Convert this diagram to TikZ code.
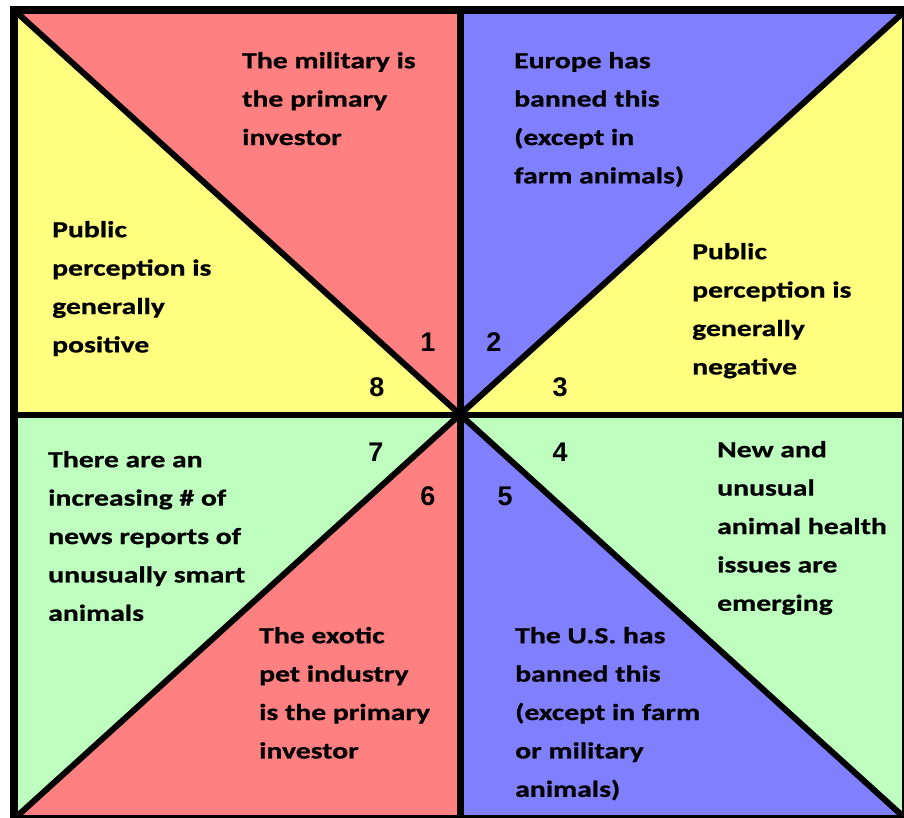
\documentclass[tikz,border=0pt]{standalone}
\usepackage{fontspec}
\setmainfont{Carlito}[FakeStretch=1.29, BoldFeatures={FakeBold=0.8}]
\newfontfamily\numfont{Liberation Sans}
\definecolor{sred}{RGB}{255,128,128}
\definecolor{sblue}{RGB}{128,128,255}
\definecolor{syellow}{RGB}{255,255,128}
\definecolor{sgreen}{RGB}{190,255,192}
\tikzset{
  txt/.style={anchor=north west, inner sep=0pt, align=left, text=black,
    font=\bfseries\fontsize{23}{38.4}\selectfont},
  num/.style={anchor=center, inner sep=0pt, text=black,
    font=\numfont\bfseries\fontsize{27}{30}\selectfont},
  inner line/.style={line width=6pt, black},
  frame line/.style={line width=8pt, black, line join=miter}
}
\begin{document}
\begin{tikzpicture}[x=1pt,y=-1pt]
\useasboundingbox (0,0) rectangle (904,817);
\clip (0,0) rectangle (904,817);
\coordinate (C) at (460,414.5);
\coordinate (TL) at (14,10);
\coordinate (TR) at (906,10);
\coordinate (BR) at (906,819);
\coordinate (BL) at (14,819);
\coordinate (T) at (460,10);
\coordinate (B) at (460,819);
\coordinate (L) at (14,414.5);
\coordinate (R) at (906,414.5);
% sectors
\fill[sred] (C) -- (TL) -- (T) -- cycle;
\fill[sblue] (C) -- (T) -- (TR) -- cycle;
\fill[syellow] (C) -- (TR) -- (R) -- cycle;
\fill[sgreen] (C) -- (R) -- (BR) -- cycle;
\fill[sblue] (C) -- (BR) -- (B) -- cycle;
\fill[sred] (C) -- (B) -- (BL) -- cycle;
\fill[sgreen] (C) -- (BL) -- (L) -- cycle;
\fill[syellow] (C) -- (L) -- (TL) -- cycle;
% dividing lines
\draw[inner line] (TL) -- (BR);
\draw[inner line] (TR) -- (BL);
\draw[inner line] (L) -- (R);
\draw[line width=7pt] (T) -- (B);
\draw[frame line] (TL) rectangle (BR);
% sector numbers
\node[num] (n1) at (428,342) {1};
\node[num] (n2) at (494,342) {2};
\node[num] (n3) at (560,387) {3};
\node[num] (n4) at (560,452) {4};
\node[num] (n5) at (505,496) {5};
\node[num] (n6) at (428,496) {6};
\node[num] (n7) at (376,452) {7};
\node[num] (n8) at (377,387) {8};
% texts
\node[txt] (mil) at (242,48) {\rule{0pt}{20pt}The military is\\the primary\\investor};
\node[txt] (eur) at (514,48) {\rule{0pt}{20pt}Europe has\\banned this\\(except in\\farm animals)};
\node[txt] (pos) at (52,217) {\rule{0pt}{20pt}Public\\perception is\\generally\\positive};
\node[txt] (neg) at (692,239) {\rule{0pt}{20pt}Public\\perception is\\generally\\negative};
\node[txt] (news) at (48,447) {\rule{0pt}{20pt}There are an\\increasing \# of\\news reports of\\unusually smart\\animals};
\node[txt] (health) at (717,437) {\rule{0pt}{20pt}New and\\unusual\\animal health\\issues are\\emerging};
\node[txt] (pet) at (259,623) {\rule{0pt}{20pt}The exotic\\pet industry\\is the primary\\investor};
\node[txt] (us) at (515,623) {\rule{0pt}{20pt}The U.S. has\\banned this\\(except in farm\\or military\\animals)};
\end{tikzpicture}
\end{document}
